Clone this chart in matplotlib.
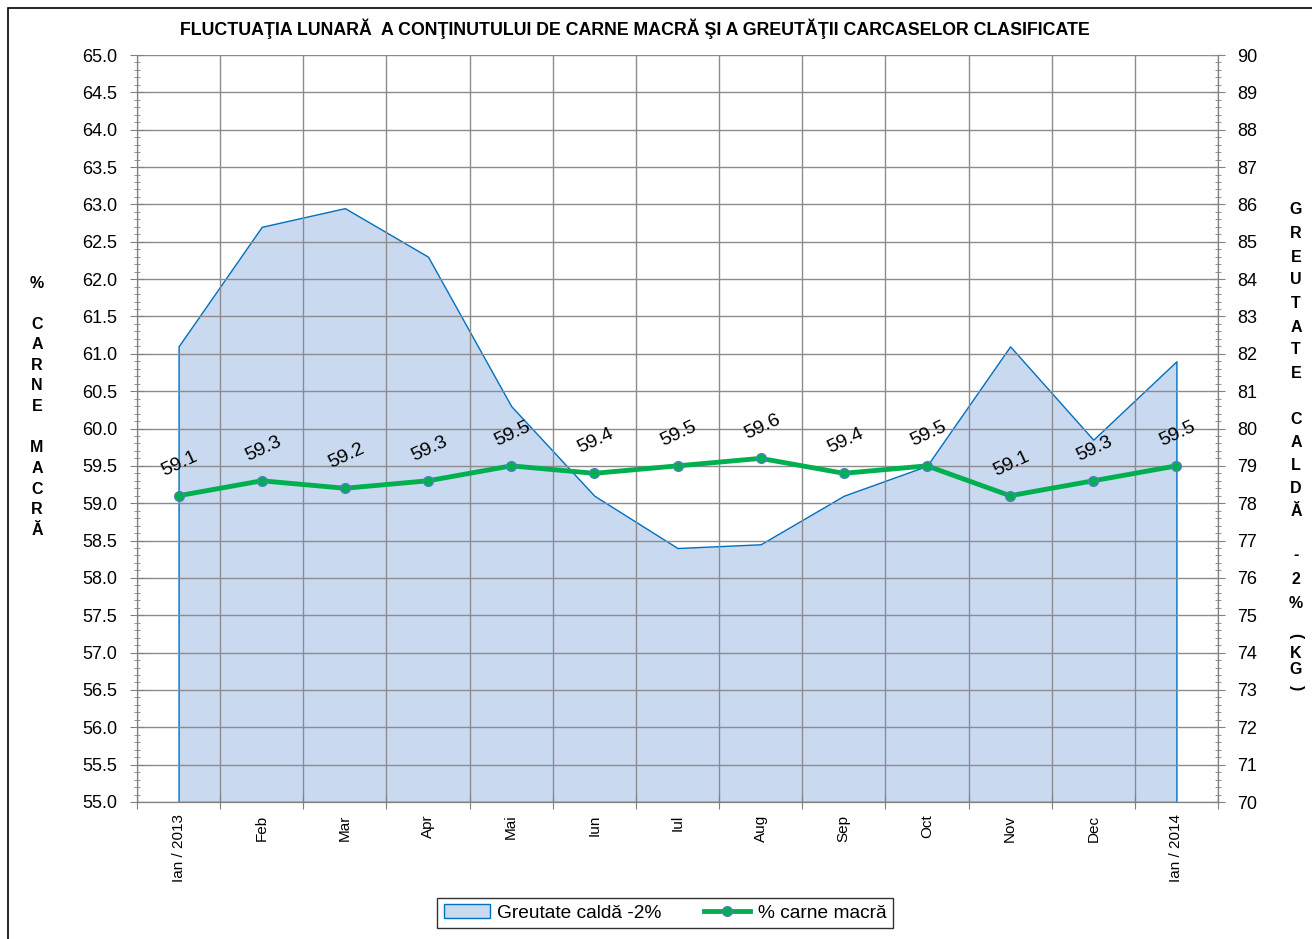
import matplotlib
matplotlib.use("Agg")
import matplotlib.pyplot as plt
from matplotlib.ticker import MultipleLocator, FixedLocator, NullFormatter
from matplotlib.patches import Rectangle

plt.rcParams["font.family"] = ["Liberation Sans", "DejaVu Sans"]

# ---------------------------------------------------------------------------
# Data
# ---------------------------------------------------------------------------
months = ["Ian / 2013", "Feb", "Mar", "Apr", "Mai", "Iun", "Iul", "Aug",
          "Sep", "Oct", "Nov", "Dec", "Ian / 2014"]
carne_macra = [59.1, 59.3, 59.2, 59.3, 59.5, 59.4, 59.5, 59.6,
               59.4, 59.5, 59.1, 59.3, 59.5]
greutate = [82.2, 85.4, 85.9, 84.6, 80.6, 78.2, 76.8, 76.9,
            78.2, 79.0, 82.2, 79.7, 81.8]

title = ("FLUCTUAŢIA LUNARĂ  A CONŢINUTULUI DE CARNE MACRĂ ŞI A GREUTĂŢII "
         "CARCASELOR CLASIFICATE")
left_label = ["%", "", "C", "A", "R", "N", "E", "", "M", "A", "C", "R", "Ă"]
right_label = ["G", "R", "E", "U", "T", "A", "T", "E", "", "C", "A", "L", "D",
               "Ă", "", "-", "2", "%", "", "(", "K", "G", ")"]

# ---------------------------------------------------------------------------
# Style
# ---------------------------------------------------------------------------
W, H = 1312, 939
GRID = "#8c8c8c"
AXIS = "#808080"
GREEN = "#00B050"
FILL = "#C9D9F0"
EDGE = "#0070C0"

fig = plt.figure(figsize=(W / 100, H / 100), dpi=100)
ax = fig.add_axes([137 / W, 1 - 802 / H, (1218 - 137) / W, (802 - 55) / H])
ax2 = ax.twinx()

x = list(range(len(months)))

# area on the right axis
ax2.fill_between(x, 70, greutate, facecolor=FILL, edgecolor=EDGE, lw=1.0,
                 label="Greutate caldă -2%")
ax2.set_ylim(70, 90)
ax2.yaxis.set_major_locator(MultipleLocator(1))
ax2.yaxis.set_minor_locator(MultipleLocator(0.2))

# line on the left axis, drawn above the area
ax.set_zorder(ax2.get_zorder() + 1)
ax.patch.set_visible(False)
ax.set_axisbelow(True)
ax.plot(x, carne_macra, color=GREEN, lw=3.5, marker="o", ms=7,
        mfc=GREEN, mec="#4f81bd", mew=1.0, label="% carne macră", zorder=4)
for xi, v in zip(x, carne_macra):
    ax.annotate(f"{v:.1f}", (xi, v), xytext=(1, 23), textcoords="offset points",
                ha="center", va="center", rotation=25, fontsize=14,
                fontweight="medium", zorder=5)

ax.set_ylim(55, 65)
ax.set_xlim(-0.5, len(months) - 0.5)
ax.yaxis.set_major_locator(MultipleLocator(0.5))
ax.yaxis.set_minor_locator(MultipleLocator(0.1))
ax.yaxis.set_major_formatter(plt.FuncFormatter(lambda v, p: f"{v:.1f}"))

# x: gridlines between categories, labels centred
ax.xaxis.set_major_locator(FixedLocator([i - 0.5 for i in range(len(months) + 1)]))
ax.xaxis.set_major_formatter(NullFormatter())
ax.xaxis.set_minor_locator(FixedLocator(x))
ax.set_xticklabels(months, minor=True, rotation=90, fontsize=11)
ax.tick_params(axis="x", which="minor", length=0, pad=9)
ax.tick_params(axis="x", which="major", direction="inout", length=10,
               color=AXIS)

ax.grid(True, which="major", color=GRID, lw=1.0)
ax.tick_params(axis="y", which="major", direction="inout", length=10,
               color=AXIS, labelsize=13, pad=9)
ax.tick_params(axis="y", which="minor", direction="inout", length=5,
               color=AXIS)
ax2.tick_params(axis="y", which="major", direction="inout", length=10,
                color=AXIS, labelsize=13, pad=9)
ax2.tick_params(axis="y", which="minor", direction="inout", length=5,
                color=AXIS)
for a in (ax, ax2):
    for s in a.spines.values():
        s.set_color(AXIS)
    a.spines["top"].set_visible(False)

# titles / axis labels
fig.text(635 / W, 1 - 29 / H, title, ha="center", va="center",
         fontsize=12.8, fontweight="bold")

y0, step = 283, 20.6
for i, ch in enumerate(left_label):
    if ch:
        fig.text(37 / W, 1 - (y0 + step * i) / H, ch, ha="center",
                 va="center", fontsize=11.5, fontweight="bold")

right_y = [210, 233, 257, 280, 303, 327, 350, 374, 0, 420, 442, 465, 488,
           512, 0, 555, 580, 603, 0, 636, 653, 670, 688]
for ch, yy in zip(right_label, right_y):
    if ch:
        rot = -90 if ch in "()" else 0
        fig.text(1296 / W, 1 - yy / H, ch, ha="center", va="center",
                 fontsize=11.5, fontweight="bold", rotation=rot)

# legend
h1, l1 = ax2.get_legend_handles_labels()
h2, l2 = ax.get_legend_handles_labels()
leg = fig.legend(h1 + h2, l1 + l2, loc="center", ncol=2,
                 bbox_to_anchor=(665 / W, 1 - 913 / H), fontsize=13.8,
                 frameon=True, fancybox=False, edgecolor="black",
                 handlelength=2.4, columnspacing=2.2, borderpad=0.35,
                 handletextpad=0.4, borderaxespad=0)
leg.get_frame().set_linewidth(1.0)

# outer border (left and top visible)
fig.patches.append(Rectangle((8 / W, -0.1), 1.5, 1 - 8 / H + 0.1,
                             transform=fig.transFigure, fill=False,
                             edgecolor="black", lw=1.2))

fig.savefig("out.png", dpi=100, facecolor="white")
